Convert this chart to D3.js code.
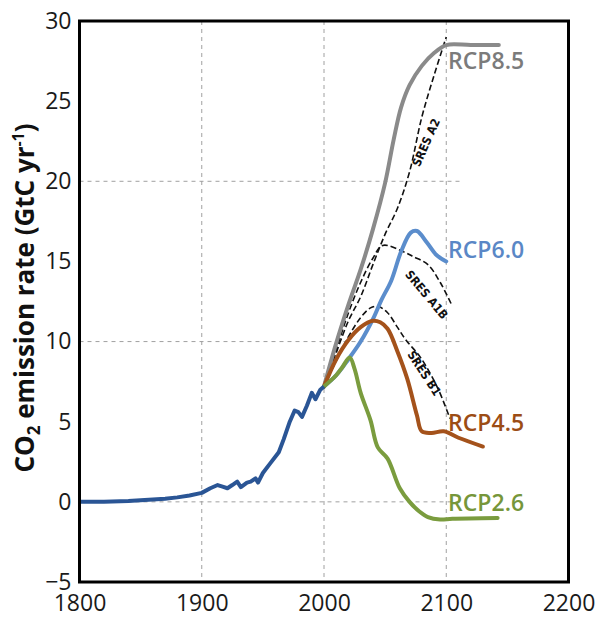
<!DOCTYPE html>
<html>
<head>
<meta charset="utf-8">
<script src="https://cdn.jsdelivr.net/npm/d3@7"></script>
<style>
  body { margin: 0; background: #fff; }
  svg { display: block; font-family: "Open Sans", "Noto Sans", sans-serif; }
</style>
</head>
<body>
<svg id="chart" width="599" height="619"></svg>
<script>
// historical emissions (GtC/yr)
const histYears = [1800, 1820, 1840, 1860, 1870, 1880, 1890, 1900, 1907, 1913, 1917, 1921, 1925, 1929, 1932, 1937, 1940, 1944, 1946, 1950, 1956, 1963, 1967, 1972, 1976, 1979, 1982, 1986, 1990, 1993, 1997, 2000];
const histValues = [0, 0.01, 0.05, 0.14, 0.2, 0.28, 0.4, 0.56, 0.85, 1.05, 0.95, 0.85, 1.05, 1.26, 0.92, 1.2, 1.26, 1.47, 1.2, 1.8, 2.4, 3.1, 3.9, 5.0, 5.7, 5.6, 5.3, 6.0, 6.8, 6.4, 7.0, 7.2];

// RCP pathways
const rcp85Years = [2000, 2010, 2020, 2030, 2040, 2050, 2057, 2063, 2070, 2080, 2090, 2100, 2120, 2143];
const rcp85Values = [7.2, 9.9, 12.3, 14.5, 17.0, 19.9, 22.6, 24.6, 26.0, 27.2, 28.0, 28.5, 28.5, 28.5];

const rcp60Years = [2000, 2010, 2020, 2030, 2040, 2047, 2055, 2063, 2071, 2076, 2084, 2092, 2100];
const rcp60Values = [7.2, 7.9, 8.9, 10.0, 11.4, 12.6, 13.8, 15.6, 16.8, 16.9, 16.2, 15.4, 15.0];

const rcp45Years = [2000, 2010, 2020, 2030, 2040, 2046, 2052, 2060, 2068, 2076, 2080, 2088, 2098, 2110, 2130];
const rcp45Values = [7.2, 8.9, 10.1, 10.9, 11.3, 11.2, 10.8, 9.4, 7.7, 5.4, 4.4, 4.3, 4.4, 4.0, 3.45];

const rcp26Years = [2000, 2010, 2015, 2021, 2025, 2030, 2038, 2044, 2052, 2062, 2070, 2078, 2085, 2095, 2105, 2142];
const rcp26Values = [7.2, 7.9, 8.4, 9.0, 8.3, 6.8, 5.1, 3.4, 2.7, 0.85, 0.0, -0.6, -0.95, -1.1, -1.05, -1.0];

// SRES scenarios
const a2Years = [2000, 2010, 2020, 2030, 2040, 2050, 2060, 2070, 2080, 2090, 2100];
const a2Values = [7.2, 9.3, 11.3, 12.8, 14.8, 16.7, 18.3, 20.6, 24.0, 26.6, 29.0];

const a1bYears = [2000, 2010, 2020, 2030, 2040, 2048, 2065, 2073, 2085, 2095, 2105];
const a1bValues = [7.2, 9.5, 11.8, 13.7, 15.2, 16.0, 15.6, 15.3, 14.8, 13.7, 12.2];

const b1Years = [2000, 2010, 2020, 2030, 2038, 2044, 2052, 2060, 2067, 2079, 2093, 2103];
const b1Values = [7.2, 8.8, 10.3, 11.5, 12.1, 12.2, 11.8, 10.9, 10.1, 9.0, 7.1, 5.2];

const xTicks = [1800, 1900, 2000, 2100, 2200];
const yTicks = [-5, 0, 5, 10, 15, 20, 25, 30];
const gridX = [1900, 2000, 2100];
const gridY = [0, 10, 20];

const zip = (xs, ys) => xs.map((k, i) => ({ k, v: ys[i] }));

const svg = d3.select('#chart');

const x = d3.scaleLinear().domain([1800, 2200]).range([79.5, 568.5]);
const y = d3.scaleLinear().domain([-5, 30]).range([582, 21]);

// grid
svg.append('g').selectAll('line')
  .data(gridX)
  .enter()
  .append('line')
  .attr('x1', d => x(d)).attr('x2', d => x(d))
  .attr('y1', y(30)).attr('y2', y(-5))
  .attr('stroke', '#a0a0a0')
  .attr('stroke-width', 1)
  .attr('stroke-dasharray', '4,4');

svg.append('g').selectAll('line')
  .data(gridY)
  .enter()
  .append('line')
  .attr('x1', x(1800)).attr('x2', x(2113))
  .attr('y1', d => y(d)).attr('y2', d => y(d))
  .attr('stroke', '#a0a0a0')
  .attr('stroke-width', 1)
  .attr('stroke-dasharray', '4,4');

// axes (labels only, no tick marks)
const xAxis = d3.axisBottom(x).tickValues(xTicks).tickSize(0).tickPadding(13).tickFormat(d3.format('d'));
const yAxis = d3.axisLeft(y).tickValues(yTicks).tickSize(0).tickPadding(8);

svg.append('g')
  .attr('transform', `translate(0, ${ y(-5) })`)
  .call(xAxis)
  .call(g => g.select('.domain').remove())
  .selectAll('text')
  .attr('font-size', 23)
  .attr('font-family', '"Open Sans", sans-serif')
  .attr('fill', '#1a1a1a');

svg.append('g')
  .attr('transform', `translate(${ x(1800) }, 0)`)
  .call(yAxis)
  .call(g => g.select('.domain').remove())
  .selectAll('text')
  .attr('font-size', 23)
  .attr('font-family', '"Open Sans", sans-serif')
  .attr('fill', '#1a1a1a');

// y title
const title = svg.append('text')
  .attr('transform', `translate(34, 298) rotate(-90)`)
  .attr('text-anchor', 'middle')
  .attr('font-size', 26)
  .attr('font-weight', 'bold')
  .attr('fill', '#111');
title.append('tspan').text('CO');
title.append('tspan').attr('font-size', 17).attr('dy', 6).text('2');
title.append('tspan').attr('dy', -6).text(' emission rate (GtC yr');
title.append('tspan').attr('font-size', 16).attr('dy', -10).text('-1');
title.append('tspan').attr('dy', 10).text(')');

const smooth = d3.line().x(d => x(d.k)).y(d => y(d.v)).curve(d3.curveCatmullRom.alpha(0.5));
const straight = d3.line().x(d => x(d.k)).y(d => y(d.v));

// SRES dashed
[[a2Years, a2Values], [a1bYears, a1bValues], [b1Years, b1Values]].forEach(([ks, vs]) => {
  svg.append('path')
    .attr('d', smooth(zip(ks, vs)))
    .attr('fill', 'none')
    .attr('stroke', '#111')
    .attr('stroke-width', 1.6)
    .attr('stroke-dasharray', '6,3');
});

// RCP lines
const rcps = [
  { ks: rcp85Years, vs: rcp85Values, color: '#8a8a8a' },
  { ks: rcp60Years, vs: rcp60Values, color: '#5b8dcc' },
  { ks: rcp45Years, vs: rcp45Values, color: '#a4521b' },
  { ks: rcp26Years, vs: rcp26Values, color: '#7a9c3e' }
];
rcps.forEach(r => {
  svg.append('path')
    .attr('d', smooth(zip(r.ks, r.vs)))
    .attr('fill', 'none')
    .attr('stroke', r.color)
    .attr('stroke-width', 4)
    .attr('stroke-linejoin', 'round')
    .attr('stroke-linecap', 'round');
});

// historical
svg.append('path')
  .attr('d', straight(zip(histYears, histValues)))
  .attr('fill', 'none')
  .attr('stroke', '#2a5595')
  .attr('stroke-width', 4)
  .attr('stroke-linejoin', 'round');

// SRES labels
const sresLabels = [
  { t: 'SRES A2', k: 2084, v: 22.4, a: -66 },
  { t: 'SRES A1B', k: 2083.5, v: 12.9, a: 50 },
  { t: 'SRES B1', k: 2081.5, v: 8.0, a: 57 }
];
sresLabels.forEach(s => {
  svg.append('text')
    .attr('transform', `translate(${ x(s.k) }, ${ y(s.v) }) rotate(${ s.a })`)
    .attr('text-anchor', 'middle')
    .attr('dominant-baseline', 'middle')
    .attr('font-size', 12)
    .attr('font-weight', 'bold')
    .attr('font-family', '"Liberation Sans Narrow", "DejaVu Sans Condensed", sans-serif')
    .attr('fill', '#111')
    .text(s.t);
});

// RCP labels
const rcpLabels = [
  { t: 'RCP8.5', v: 27.0, color: '#7b7b7b' },
  { t: 'RCP6.0', v: 15.2, color: '#5a87c6' },
  { t: 'RCP4.5', v: 4.4, color: '#9c4d15' },
  { t: 'RCP2.6', v: -0.6, color: '#76963a' }
];
rcpLabels.forEach(l => {
  svg.append('text')
    .attr('x', x(2101.5))
    .attr('y', y(l.v))
    .attr('font-size', 23)
    .attr('font-weight', 600)
    .attr('fill', l.color)
    .text(l.t);
});

// frame
svg.append('rect')
  .attr('x', x(1800))
  .attr('y', y(30))
  .attr('width', x(2200) - x(1800))
  .attr('height', y(-5) - y(30))
  .attr('fill', 'none')
  .attr('stroke', '#000')
  .attr('stroke-width', 3);
</script>
</body>
</html>
